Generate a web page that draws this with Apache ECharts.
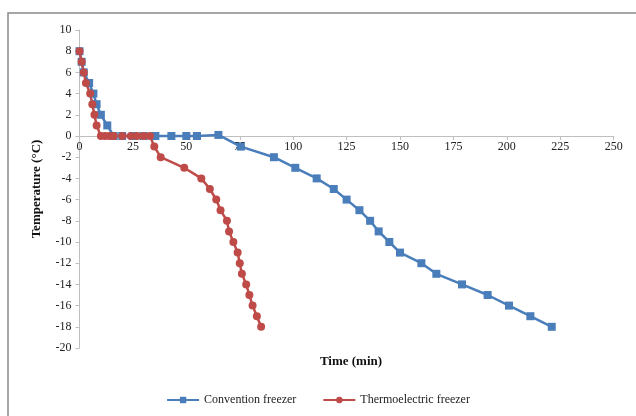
<!DOCTYPE html>
<html>
<head>
<meta charset="utf-8">
<script src="https://cdn.jsdelivr.net/npm/echarts@6/dist/echarts.min.js"></script>
<style>
  html, body { margin: 0; padding: 0; background: #fff; }
  #chart { width: 636px; height: 416px; }
</style>
</head>
<body>
<div id="chart"></div>
<script>
// Time (min) and temperature (°C)
const conventionTime = [0, 1, 2, 4.5, 6.5, 8, 10, 13, 16, 20, 25, 30, 35.5, 43, 50, 55, 65, 75.5, 91, 101, 111, 119, 125, 131, 136, 140, 145, 150, 160, 167, 179, 191, 201, 211, 221]
const conventionTemp = [8, 7, 6, 5, 4, 3, 2, 1, 0, 0, 0, 0, 0, 0, 0, 0, 0.1, -1, -2, -3, -4, -5, -6, -7, -8, -9, -10, -11, -12, -13, -14, -15, -16, -17, -18]

const thermoTime = [0, 1, 2, 3, 5, 6, 7, 8, 10, 12, 14, 16, 20, 24, 27, 30, 33, 35, 38, 49, 57, 61, 64, 66, 69, 70, 72, 74, 75, 76, 78, 79.5, 81, 83, 85]
const thermoTemp = [8, 7, 6, 5, 4, 3, 2, 1, 0, 0, 0, 0, 0, 0, 0, 0, 0, -1, -2, -3, -4, -5, -6, -7, -8, -9, -10, -11, -12, -13, -14, -15, -16, -17, -18]

const seriesNames = ['Convention freezer', 'Thermoelectric freezer']

const font = 'Liberation Serif'
const axisGrey = '#bfbfbf'

const gridTop = 30
const gridBottom = 68
const chartHeight = 416
const yMin = -20
const yMax = 10

const chart = echarts.init(document.getElementById('chart'))

const pair = (xs, ys) => xs.map((x, i) => [x, ys[i]])

// lift the x axis (line, ticks and labels) up to the 0 °C level
const plotHeight = chartHeight - gridTop - gridBottom
const zeroLift = -plotHeight * (0 - yMin) / (yMax - yMin)

const option = {
  animation: false,
  backgroundColor: '#fff',
  textStyle: { fontFamily: font },
  title: {
    text: 'Time (min)',
    left: 346,
    top: 350,
    textAlign: 'center',
    textStyle: { fontFamily: font, fontSize: 13, fontWeight: 'bold', color: '#111' },
  },
  graphic: [
    {
      type: 'rect',
      silent: true,
      shape: { x: 8, y: 13, width: 700, height: 500 },
      style: { fill: 'none', stroke: '#8a8a8a', lineWidth: 1.5 },
    },
  ],
  grid: {
    left: 79.5,
    right: 22.3,
    top: gridTop,
    bottom: gridBottom,
  },
  legend: {
    data: seriesNames,
    bottom: 5,
    left: 'center',
    itemWidth: 32,
    itemHeight: 8,
    itemGap: 26,
    textStyle: { fontFamily: font, fontSize: 12, color: '#222' },
  },
  xAxis: {
    type: 'value',
    min: 0,
    max: 250,
    interval: 25,
    offset: zeroLift,
    axisLine: { onZero: false, lineStyle: { color: axisGrey } },
    axisTick: { show: true, length: 4, lineStyle: { color: axisGrey } },
    axisLabel: { color: '#222', fontSize: 12, fontFamily: font, margin: 5 },
    splitLine: { show: false },
  },
  yAxis: {
    type: 'value',
    min: yMin,
    max: yMax,
    interval: 2,
    name: 'Temperature (°C)',
    nameLocation: 'middle',
    nameGap: 36,
    nameTextStyle: { fontFamily: font, fontSize: 13, fontWeight: 'bold', color: '#111' },
    axisLine: { show: true, lineStyle: { color: axisGrey } },
    axisTick: { show: true, length: 4, lineStyle: { color: axisGrey } },
    axisLabel: { color: '#222', fontSize: 12, fontFamily: font, margin: 8 },
    splitLine: { show: false },
  },
  series: [
    {
      name: seriesNames[0],
      type: 'line',
      data: pair(conventionTime, conventionTemp),
      symbol: 'rect',
      symbolSize: 8,
      color: '#4a7ebb',
      lineStyle: { width: 2.5, color: '#4a7ebb' },
      itemStyle: { color: '#4a7ebb' },
    },
    {
      name: seriesNames[1],
      type: 'line',
      data: pair(thermoTime, thermoTemp),
      symbol: 'circle',
      symbolSize: 8,
      color: '#be4b48',
      lineStyle: { width: 2.5, color: '#be4b48' },
      itemStyle: { color: '#be4b48' },
    },
  ],
}

chart.setOption(option)
</script>
</body>
</html>
